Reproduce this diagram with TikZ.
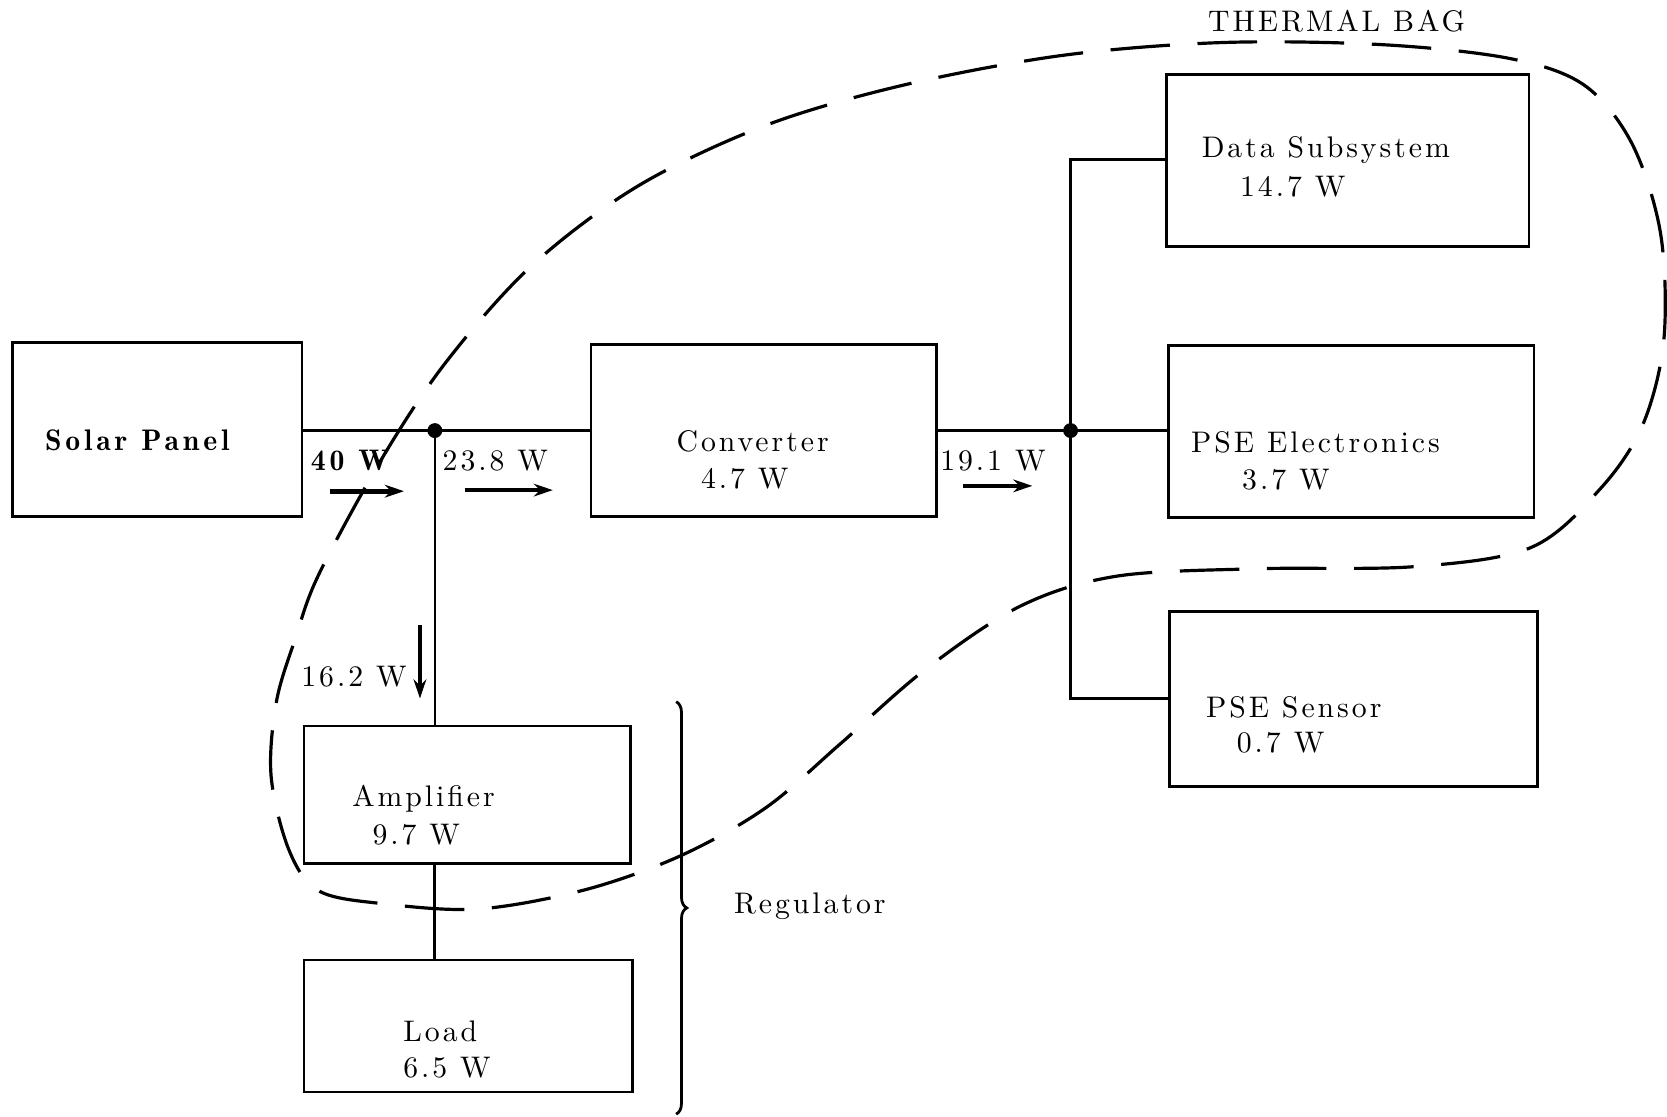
\documentclass[tikz,border=0pt]{standalone}
\usepackage{fontspec}
\newfontfamily\lmsp[LetterSpace=10]{lmroman10-regular.otf}
\newfontfamily\lmdemi[LetterSpace=13]{lmromandemi10-regular.otf}
\usetikzlibrary{arrows.meta,decorations.pathreplacing}
\begin{document}
\begin{tikzpicture}[x=0.5pt,y=-0.5pt,
  box/.style={draw,line width=1.2pt,inner sep=0pt},
  lbl/.style={inner sep=0pt,anchor=west,font=\lmsp\fontsize{14}{16}\selectfont},
  wire/.style={line width=1.2pt},
  flow/.style={line width=1.6pt,-{Stealth[length=9pt,width=6pt]}},
  bag/.style={line width=1.5pt,dash pattern=on 28pt off 13pt}]
\useasboundingbox (0,0) rectangle (1568,1050);
% boxes
\node[box,minimum width=136pt,minimum height=82pt] (sp) at (148,404) {};
\node[box,minimum width=162.5pt,minimum height=81pt] (conv) at (718.5,405) {};
\node[box,minimum width=170.5pt,minimum height=81pt] (data) at (1267.5,151) {};
\node[box,minimum width=172pt,minimum height=81pt] (psee) at (1271,406) {};
\node[box,minimum width=173pt,minimum height=82.5pt] (pses) at (1273,657.5) {};
\node[box,minimum width=153.5pt,minimum height=64.5pt] (amp) at (439.5,747.5) {};
\node[box,minimum width=154.5pt,minimum height=62pt] (load) at (440.5,965) {};
% texts
\node[lbl,font=\lmdemi\fontsize{14}{16}\selectfont] (tsp) at (42,414) {Solar Panel};
\node[lbl] (tconv) at (636,415) {Converter};
\node[lbl] (tconvw) at (659,450) {4.7 W};
\node[lbl] (tdata) at (1130,141) {Data Subsystem};
\node[lbl] (tdataw) at (1166,176) {14.7 W};
\node[lbl] (tpsee) at (1120,416) {PSE Electronics};
\node[lbl] (tpseew) at (1168,451) {3.7 W};
\node[lbl] (tpses) at (1134,665) {PSE Sensor};
\node[lbl] (tpsesw) at (1163,699) {0.7 W};
\node[lbl] (tamp) at (331,751) {Amplifier};
\node[lbl] (tampw) at (350,785) {9.7 W};
\node[lbl] (tload) at (379,970) {Load};
\node[lbl] (tloadw) at (379,1004) {6.5 W};
\node[lbl,font=\lmdemi\fontsize{14}{16}\selectfont] (t40) at (292,433) {40 W};
\node[lbl] (t238) at (416,433) {23.8 W};
\node[lbl] (t191) at (884,433) {19.1 W};
\node[lbl] (t162) at (283,636) {16.2 W};
\node[lbl] (treg) at (690,852) {Regulator};
\node[lbl] (tbag) at (1136,20) {THERMAL BAG};
% junctions
\coordinate (j1) at (409,405);
\coordinate (j2) at (1007,405);
\coordinate (b1) at (1007,150);
\coordinate (b2) at (1007,657);
\draw[wire] (sp.east |- j1) -- (j1) -- (conv.west |- j1);
\draw[wire] (j1) -- (j1 |- amp.north);
\draw[wire,line width=1.5pt] (j1 |- amp.south) -- (j1 |- load.north);
\draw[wire] (conv.east |- j2) -- (j2) -- (psee.west |- j2);
\draw[wire] (data.west |- b1) -- (b1) -- (b2) -- (pses.west |- b2);
\fill (j1) circle (3.5pt);
\fill (j2) circle (3.5pt);
% flow arrows
\coordinate (a1s) at (310,462); \coordinate (a1e) at (380,462);
\coordinate (a2s) at (437,461); \coordinate (a2e) at (520,461);
\coordinate (a3s) at (906,457); \coordinate (a3e) at (971,457);
\coordinate (a4s) at (395,588); \coordinate (a4e) at (395,657);
\draw[flow,line width=2.2pt] (a1s) -- (a1e);
\draw[flow] (a2s) -- (a2e);
\draw[flow] (a3s) -- (a3e);
\draw[flow] (a4s) -- (a4e);
% regulator brace
\coordinate (brt) at (636,660); \coordinate (brb) at (636,1048);
\draw[line width=1.3pt,decorate,decoration={brace,amplitude=5pt}] (brt) -- (brb);
% thermal bag
\draw[bag] plot[smooth cycle,tension=0.55] coordinates {
 (300,540) (360,430) (420,340) (500,250) (600,175) (720,118) (850,80)
 (1000,52) (1150,40) (1300,42) (1420,55) (1490,80) (1535,135) (1562,220)
 (1565,320) (1545,400) (1505,460) (1440,515) (1330,533) (1180,535)
 (1050,542) (960,570) (870,630) (790,700) (720,760) (640,805) (550,837)
 (450,855) (360,850) (300,838) (272,800) (255,730) (260,660) (278,600)};
\end{tikzpicture}
\end{document}
